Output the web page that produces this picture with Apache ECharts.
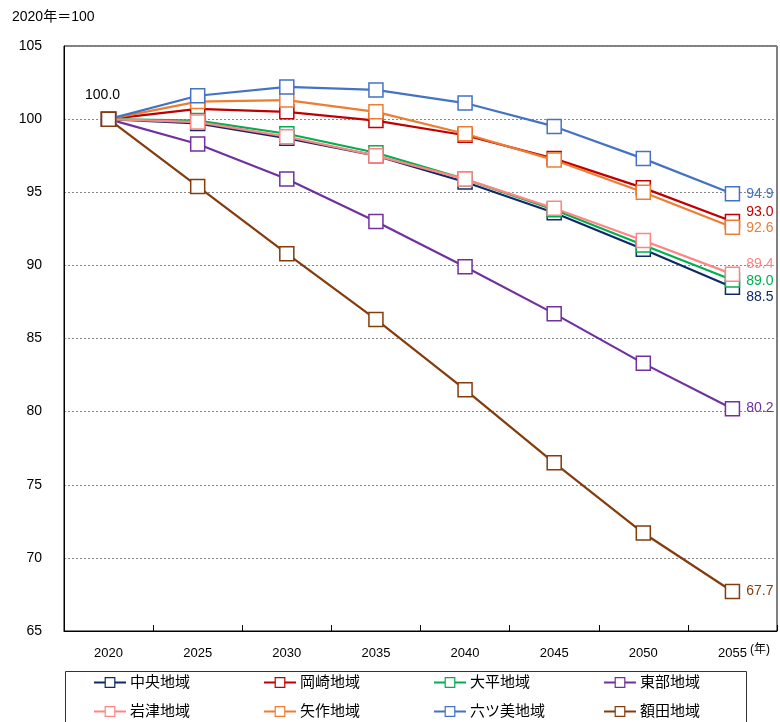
<!DOCTYPE html>
<html><head><meta charset="utf-8">
<script src="https://cdn.jsdelivr.net/npm/echarts@6/dist/echarts.min.js"></script>
<style>html,body{margin:0;padding:0;background:#fff}#c{width:780px;height:722px}</style>
</head><body><div id="c"></div>
<script>
const years = ['2020','2025','2030','2035','2040','2045','2050','2055'];
const names = ['中央地域','岡崎地域','大平地域','東部地域','岩津地域','矢作地域','六ツ美地域','額田地域'];
const chuo   = [100, 99.7, 98.7, 97.5, 95.7, 93.6, 91.1, 88.5];
const okazaki= [100, 100.7, 100.5, 99.9, 98.9, 97.3, 95.3, 93.0];
const ohira  = [100, 99.9, 99.0, 97.7, 95.9, 93.8, 91.4, 89.0];
const tobu   = [100, 98.3, 95.9, 93.0, 89.9, 86.7, 83.3, 80.2];
const iwazu  = [100, 99.8, 98.8, 97.5, 95.9, 93.9, 91.7, 89.4];
const yahagi = [100, 101.2, 101.3, 100.5, 99.0, 97.2, 95.0, 92.6];
const mutsumi= [100, 101.6, 102.2, 102.0, 101.1, 99.5, 97.3, 94.9];
const nukata = [100, 95.4, 90.8, 86.3, 81.5, 76.5, 71.7, 67.7];
const values = [chuo, okazaki, ohira, tobu, iwazu, yahagi, mutsumi, nukata];
const colors = ['#0E2A66','#C00000','#00B050','#7030A0','#FF8585','#ED7D31','#4472C4','#843C0C'];
const endOffsets = [[0,10],[0,-9],[0,1],[0,-1],[0,-10],[0,1],[0,0],[0,0]];
const FONT = '"Liberation Sans", Arial, "Noto Sans CJK JP", sans-serif';

const series = values.map((arr, i) => ({
  name: names[i], type: 'line', data: arr.map((v, j) => {
    const d = {value: v};
    if (j === arr.length - 1) {
      d.label = {show: true, position: 'right', distance: 6, offset: endOffsets[i], color: colors[i],
        fontSize: 14, fontFamily: FONT, formatter: p => p.value.toFixed(1)};
    }
    if (i === values.length - 1 && j === 0) {
      d.label = {show: true, position: 'top', distance: 9, offset: [-6, 0], color: '#000',
        fontSize: 14, fontFamily: FONT, formatter: p => p.value.toFixed(1)};
    }
    return d;
  }),
  symbol: 'rect', symbolSize: 14,
  lineStyle: {color: colors[i], width: 2.2},
  itemStyle: {color: '#fff', borderColor: colors[i], borderWidth: 1.5},
  emphasis: {disabled: true},
  z: 2 + i
}));

const legendCols = [0,1,2,3].map(k => ({
  data: [names[k], names[k + 4]],
  orient: 'vertical', left: 93 + 170 * k, top: 675, padding: 0,
  itemWidth: 32, itemHeight: 12, itemGap: 14,
  itemStyle: {borderWidth: 1.2},
  textStyle: {color: '#000', fontSize: 15, fontFamily: FONT, padding: [0, 0, 0, -1]}
}));

const chart = echarts.init(document.getElementById('c'), null, {renderer: 'canvas'});
chart.setOption({
  animation: false,
  backgroundColor: '#fff',
  grid: {left: 64, right: 3, top: 46, bottom: 91, show: true, borderColor: '#000', borderWidth: 1},
  xAxis: {
    type: 'category', data: years, boundaryGap: true,
    axisLine: {lineStyle: {color: '#000', width: 1}},
    axisTick: {show: true, inside: true, length: 6, lineStyle: {color: '#000'}},
    axisLabel: {color: '#000', fontSize: 13, fontFamily: FONT, margin: 16}
  },
  yAxis: {
    type: 'value', min: 65, max: 105, interval: 5,
    axisLine: {show: true, lineStyle: {color: '#000'}},
    axisTick: {show: false},
    axisLabel: {color: '#000', fontSize: 14, fontFamily: FONT, margin: 22},
    splitLine: {lineStyle: {color: '#888', type: [2, 2], width: 1}}
  },
  legend: legendCols,
  graphic: [
    {type: 'rect', left: 63, top: 669, shape: {width: 681, height: 70}, style: {fill: 'none', stroke: '#333', lineWidth: 1}, z: 0},
    {type: 'text', left: 12, top: 10, style: {text: '2020年＝100', fill: '#000', font: '14px ' + FONT}},
    {type: 'text', left: 750, top: 644, style: {text: '(年)', fill: '#000', font: '12px ' + FONT}}
  ],
  series: series
});
</script></body></html>
